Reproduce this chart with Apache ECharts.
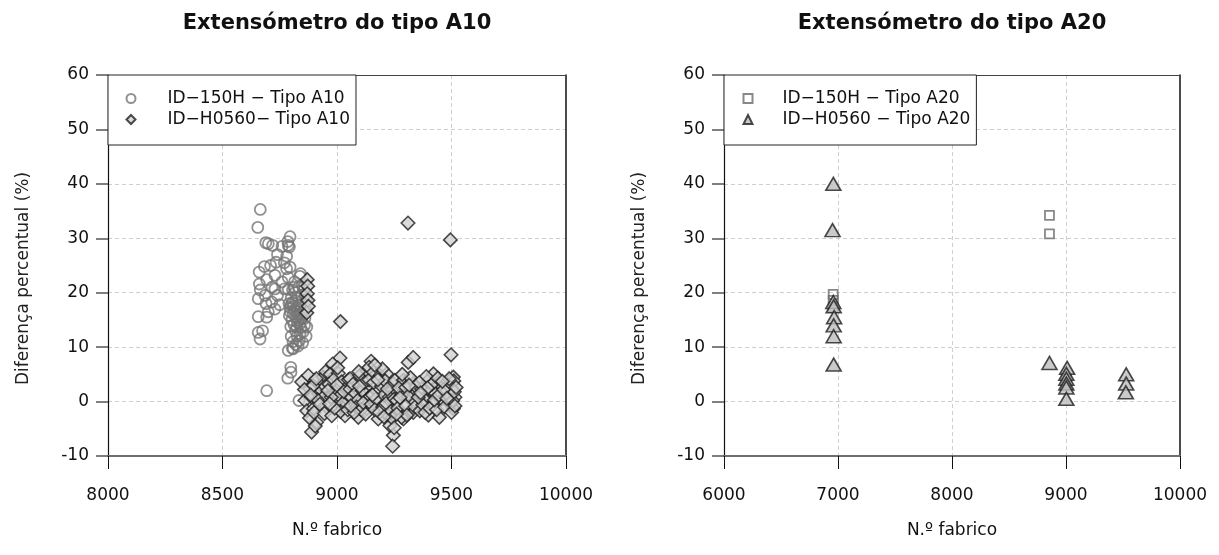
<!DOCTYPE html>
<html>
<head>
<meta charset="utf-8">
<script src="https://cdn.jsdelivr.net/npm/echarts@6/dist/echarts.min.js"></script>
<style>
html,body{margin:0;padding:0;background:#fff;}
#chart{width:1219px;height:555px;}
</style>
</head>
<body>
<div id="chart"></div>
<script>
// ---------- Data (N.º fabrico, Diferença percentual %) ----------
const titleA10 = "Extensómetro do tipo A10";
const titleA20 = "Extensómetro do tipo A20";
const xNameLabel = "N.º fabrico";
const yNameLabel = "Diferença percentual (%)";
const nameA10_150H = "ID\u2212150H \u2212 Tipo A10";
const nameA10_H0560 = "ID\u2212H0560\u2212 Tipo A10";
const nameA20_150H = "ID\u2212150H \u2212 Tipo A20";
const nameA20_H0560 = "ID\u2212H0560 \u2212 Tipo A20";

const xRangeA10 = [8000, 10000, 500];
const xRangeA20 = [6000, 10000, 1000];
const yRange = [-10, 60, 10];

const a10_150H = [
 [8665,35.3],[8654,32],[8689,29.2],[8719,28.7],[8785,29.4],[8787,28.7],[8792,28.4],[8780,26.7],
 [8734,25.6],[8683,24.8],[8795,24.7],[8660,23.8],[8729,23.2],[8780,24.4],[8693,22.4],[8787,22.8],
 [8841,23.5],[8838,23],[8729,20.7],[8787,20.6],[8661,21.6],[8716,21],[8770,20.7],[8812,21],
 [8656,18.9],[8686,19.5],[8715,18.3],[8729,17],[8656,15.6],[8693,15.5],[8795,17.3],[8809,16.1],
 [8846,15.2],[8824,13.7],[8868,13.7],[8838,12.4],[8656,12.7],[8664,11.5],[8865,12],[8835,11.2],
 [8787,9.4],[8809,9.7],[8798,6.3],[8799,5.4],[8785,4.3],[8693,2],[8834,0.2],
 [8800,19],[8805,18.2],[8810,17.5],[8815,16.8],[8820,18.5],[8825,17.2],[8830,16],[8835,15],
 [8840,17.8],[8845,19.5],[8850,18],[8855,16.5],[8860,15.3],[8803,15],[8812,14.2],[8818,13],
 [8827,14.6],[8842,13.6],[8852,12.8],[8858,14],[8800,12],[8808,11],[8820,10.5],[8796,16.5],
 [8802,17.8],[8817,20],[8828,19.2],[8833,21],[8848,21.5],[8855,20.5],[8862,17],[8866,18.8],
 [8806,20.5],[8790,18],[8792,15.8],[8798,13.8],[8822,15.6],[8837,14.2],[8847,16.2],[8860,19.8],
 [8815,22],[8826,12],[8805,9.8],[8850,10.8],[8830,10.2],[8690,18],[8700,16.5],[8740,19.5],
 [8760,22],[8750,17.8],[8710,25],[8760,28.5],[8740,27],[8700,29],[8665,20.5],[8675,13],
 [8795,30.3],[8770,25.5]
];

const a10_H0560 = [
 [9310,32.8],[9495,29.7],[9015,14.7],[8870,22.4],[8872,21.2],[8870,19.8],[8873,18.6],[8868,16.3],[8875,17.5],
 [9013,8],[8981,6.9],[9149,7.4],[9311,7.2],[9333,8.1],[9498,8.6],
 [8846,3.6],[8875,4.8],[8904,3.9],[8940,4.5],[8860,0.2],[8868,-1.7],[8882,2.3],[8889,0.8],
 [8897,-1.3],[8911,-3.8],[8889,-5.6],[8920,1.5],[8930,3],[8933,2],[8940,0.8],[8955,-1],
 [8880,-3],[8900,-2],[8915,0.3],[8925,-0.5],[8948,2.8],[8895,2.9],[8910,4.2],[8858,2.2],
 [8885,1.2],[8945,-2.2],[8905,-4.5],[8950,5.5],
 [8970,5],[9006,5.2],[8991,1.7],[8998,0.2],[8977,-2.6],[9028,-1.3],[9035,-2.6],[8965,3.2],
 [8985,4],[9020,3.6],[9040,2.5],[9010,1],[9045,0.5],[8975,0.8],[9025,-0.3],[8960,2],
 [9000,3],[9050,4],[9015,-1.8],[8990,-1.2],[9030,1.8],[9047,-1.5],[8968,-0.4],[9003,6.2],
 [9057,4.2],[9100,4.8],[9130,5.7],[9057,2.3],[9064,0.8],[9093,-2.9],[9130,2.6],[9130,0.2],
 [9130,-1.3],[9070,3.2],[9080,1.5],[9090,0.2],[9110,2],[9120,3.5],[9140,4],[9085,-1],
 [9105,-1.5],[9115,-0.2],[9145,1],[9075,-2],[9095,5.5],[9060,-0.8],[9125,-2.3],[9140,6.3],
 [9150,-0.5],[9098,2.8],
 [9159,5.4],[9188,4.8],[9217,5.1],[9173,2],[9239,2],[9188,0.2],[9180,-3.2],[9224,-2.6],
 [9231,-4.4],[9246,-6.2],[9243,-8.2],[9160,3.5],[9170,0.5],[9195,2.8],[9205,1.2],[9210,3.8],
 [9228,0.8],[9245,3.3],[9165,-1.5],[9200,-1],[9215,-0.3],[9235,-1.8],[9250,0.5],[9240,-3],
 [9178,4],[9198,6],[9220,2.3],[9185,-2],[9250,-4.8],[9155,1.2],[9165,6.7],[9205,-2.8],
 [9253,3.9],[9290,3.9],[9333,3.3],[9290,1.7],[9261,0.2],[9326,0.5],[9290,-3.2],[9326,-1.7],
 [9282,-2.9],[9333,-2],[9282,1.4],[9340,1.4],[9333,-0.1],[9270,2.5],[9300,2.6],[9310,1],
 [9320,4.4],[9265,-1.2],[9275,0.7],[9300,-0.8],[9345,2.7],[9305,-2.5],[9260,-2.3],[9315,3],
 [9285,5],[9340,-1],
 [9362,-1.7],[9399,-2.5],[9399,1.1],[9399,3.9],[9421,5.1],[9443,2.9],[9447,-2.9],[9450,0.2],
 [9370,2.3],[9380,0.5],[9390,4.6],[9410,2],[9420,-0.5],[9430,1.5],[9360,3.5],[9375,-0.6],
 [9385,-2],[9405,-1.2],[9415,3.2],[9435,-1.5],[9440,4.3],[9355,0.8],[9395,2.5],[9425,0.3],
 [9365,1.6],[9445,1.2],
 [9479,2],[9501,3.3],[9508,4.5],[9515,0.8],[9508,-1.3],[9490,1],[9495,-0.5],[9500,2.5],
 [9510,3.8],[9485,3],[9505,0.2],[9512,1.8],[9490,4.2],[9465,2.2],[9470,-1],[9520,2.6],
 [9500,-2],[9480,0.6],[9460,3.7],[9515,-0.8]
];

const a20_150H = [
 [6958,19.7],[6958,18.6],[6958,17.3],[8855,34.2],[8855,30.8],[9003,4.1],[9003,3.4]
];

const a20_H0560 = [
 [6959,40],[6952,31.5],[6959,18.3],[6962,17.5],[6966,15.5],[6962,14],[6962,12],[6962,6.8],
 [8855,7.1],[9010,6.2],[9003,5.1],[9003,4.2],[9003,3.3],[9003,2.6],[9003,0.5],
 [9528,5],[9528,3.3],[9525,1.7]
];

// ---------- Styling helpers ----------
const FONT = "DejaVu Sans";
const gridDefs = [
  {left:108, top:75, width:458, height:381},
  {left:724, top:75, width:456, height:381}
];

function bottomX(gi, r){
  return {
    gridIndex: gi, type:'value', position:'bottom',
    min:r[0], max:r[1], interval:r[2],
    axisLine:{show:true, onZero:false, lineStyle:{color:'#6e6e6e', width:2}},
    axisTick:{show:true, length:13, lineStyle:{color:'#111', width:1}},
    axisLabel:{fontFamily:FONT, fontSize:17, color:'#111', margin:31, showMinLabel:true, showMaxLabel:true,
               formatter: v => String(v)},
    splitLine:{show:true, showMinLine:false, showMaxLine:false, lineStyle:{type:[4,3], color:'#cfcfcf', width:1}},
    name:xNameLabel, nameLocation:'middle', nameGap:66,
    nameTextStyle:{fontFamily:FONT, fontSize:17, color:'#111'}
  };
}
function topX(gi, r){
  return {
    gridIndex: gi, type:'value', position:'top', min:r[0], max:r[1], interval:r[2],
    axisLine:{show:true, onZero:false, lineStyle:{color:'#444', width:1}},
    axisTick:{show:false}, axisLabel:{show:false}, splitLine:{show:false}
  };
}
function leftY(gi){
  return {
    gridIndex: gi, type:'value', position:'left',
    min:yRange[0], max:yRange[1], interval:yRange[2],
    axisLine:{show:true, onZero:false, lineStyle:{color:'#111', width:1.2}},
    axisTick:{show:true, length:12, lineStyle:{color:'#555', width:1.5}},
    axisLabel:{fontFamily:FONT, fontSize:17, color:'#111', margin:19, showMinLabel:true, showMaxLabel:true},
    splitLine:{show:true, showMinLine:false, showMaxLine:false, lineStyle:{type:[4,3], color:'#cfcfcf', width:1}},
    name:yNameLabel, nameLocation:'middle', nameGap:76, nameRotate:90,
    nameTextStyle:{fontFamily:FONT, fontSize:17, color:'#222', padding:[0,26,0,0]}
  };
}
function rightY(gi){
  return {
    gridIndex: gi, type:'value', position:'right',
    min:yRange[0], max:yRange[1], interval:yRange[2],
    axisLine:{show:true, onZero:false, lineStyle:{color:'#111', width:1.5}},
    axisTick:{show:false}, axisLabel:{show:false}, splitLine:{show:false}
  };
}

const chart = echarts.init(document.getElementById('chart'), null, {renderer:'canvas'});
chart.setOption({
  animation:false,
  backgroundColor:'#fff',
  title:[
    {text:titleA10, left:337, top:13, textAlign:'center', padding:0,
     textStyle:{fontFamily:FONT, fontSize:21, fontWeight:'bold', color:'#111'}},
    {text:titleA20, left:952, top:13, textAlign:'center', padding:0,
     textStyle:{fontFamily:FONT, fontSize:21, fontWeight:'bold', color:'#111'}}
  ],
  grid: gridDefs,
  xAxis:[ bottomX(0, xRangeA10), bottomX(1, xRangeA20), topX(0, xRangeA10), topX(1, xRangeA20) ],
  yAxis:[ leftY(0), leftY(1), rightY(0), rightY(1) ],
  legend:[
    {data:[nameA10_150H, nameA10_H0560], left:108, top:75, orient:'vertical',
     padding:[15,6,17,17.5], itemGap:4, itemWidth:9, itemHeight:9,
     backgroundColor:'#fff', borderColor:'#222', borderWidth:1,
     textStyle:{fontFamily:FONT, fontSize:17, color:'#111', padding:[0,0,0,27]}},
    {data:[nameA20_150H, nameA20_H0560], left:724, top:75, orient:'vertical',
     padding:[15,6,17,18.5], itemGap:4, itemWidth:9, itemHeight:9,
     backgroundColor:'#fff', borderColor:'#222', borderWidth:1,
     textStyle:{fontFamily:FONT, fontSize:17, color:'#111', padding:[0,0,0,25]}}
  ],
  series:[
    {name:nameA10_150H, type:'scatter', xAxisIndex:0, yAxisIndex:0, data:a10_150H,
     symbol:'circle', symbolSize:11,
     itemStyle:{color:'rgba(255,255,255,0)', borderColor:'#757575', borderWidth:1.8}},
    {name:nameA10_H0560, type:'scatter', xAxisIndex:0, yAxisIndex:0, data:a10_H0560,
     symbol:'diamond', symbolSize:13.5,
     itemStyle:{color:'#d2d2d2', borderColor:'#1e1e1e', borderWidth:1.6}},
    {name:nameA20_150H, type:'scatter', xAxisIndex:1, yAxisIndex:1, data:a20_150H,
     symbol:'rect', symbolSize:9,
     itemStyle:{color:'rgba(255,255,255,0)', borderColor:'#6a6a6a', borderWidth:1.8}},
    {name:nameA20_H0560, type:'scatter', xAxisIndex:1, yAxisIndex:1, data:a20_H0560,
     symbol:'triangle', symbolSize:[15,13],
     itemStyle:{color:'#bdbdbd', borderColor:'#1e1e1e', borderWidth:1.6}}
  ]
});
</script>
</body>
</html>
